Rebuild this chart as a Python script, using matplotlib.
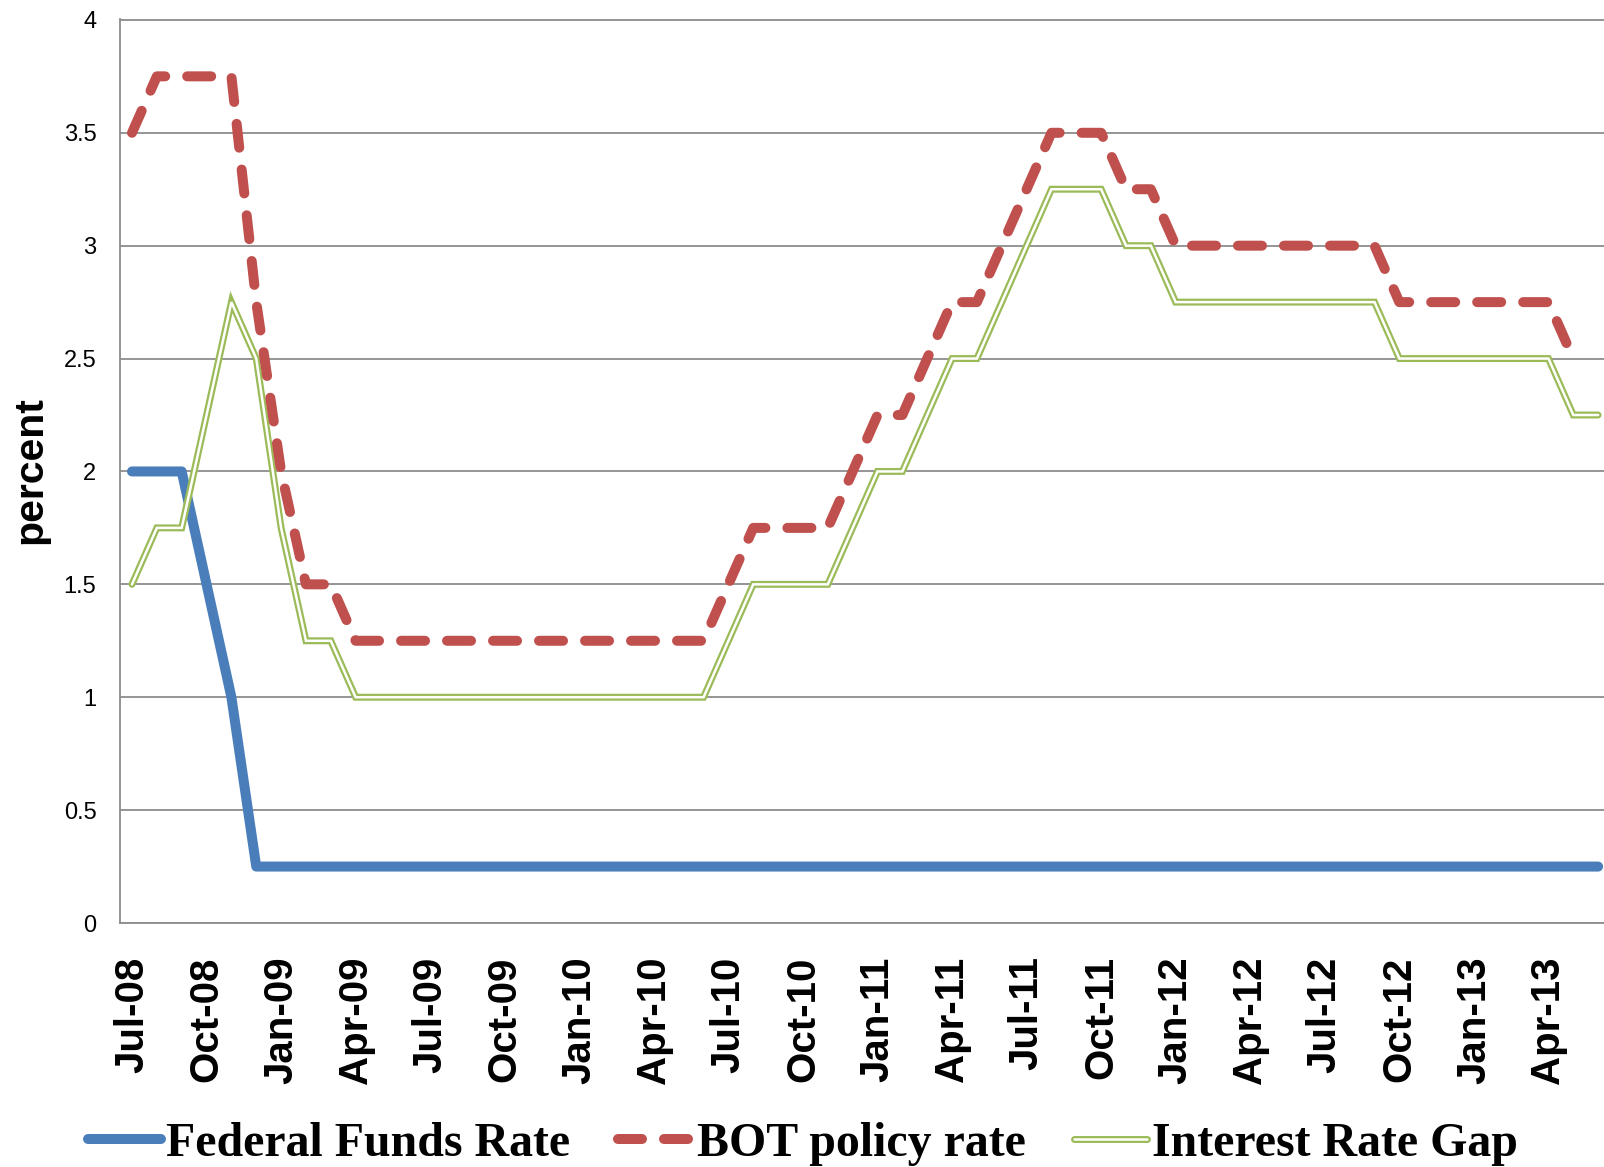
import matplotlib
matplotlib.use("Agg")
import matplotlib.pyplot as plt
from matplotlib.lines import Line2D
from matplotlib.legend_handler import HandlerTuple
import numpy as np

# ---------------- data ----------------
months_n = 60  # Jul-08 .. Jun-13, monthly
tick_labels = ["Jul-08", "Oct-08", "Jan-09", "Apr-09", "Jul-09", "Oct-09", "Jan-10",
               "Apr-10", "Jul-10", "Oct-10", "Jan-11", "Apr-11", "Jul-11", "Oct-11",
               "Jan-12", "Apr-12", "Jul-12", "Oct-12", "Jan-13", "Apr-13"]

fed_funds = [2.0, 2.0, 2.0, 1.5, 1.0, 0.25] + [0.25] * 54

bot_policy = ([3.5, 3.75, 3.75, 3.75, 3.75, 2.75, 2.0, 1.5, 1.5]
              + [1.25] * 15
              + [1.5, 1.75, 1.75, 1.75, 1.75, 2.0, 2.25, 2.25, 2.5, 2.75, 2.75,
                 3.0, 3.25, 3.5, 3.5, 3.5, 3.25, 3.25]
              + [3.0] * 9
              + [2.75] * 7
              + [2.5, np.nan])

rate_gap = ([1.5, 1.75, 1.75, 2.25, 2.75, 2.5, 1.75, 1.25, 1.25]
            + [1.0] * 15
            + [1.25, 1.5, 1.5, 1.5, 1.5, 1.75, 2.0, 2.0, 2.25, 2.5, 2.5,
               2.75, 3.0, 3.25, 3.25, 3.25, 3.0, 3.0]
            + [2.75] * 9
            + [2.5] * 7
            + [2.25, 2.25])

x = np.arange(months_n)

# ---------------- figure ----------------
W, H = 1604, 1167
fig = plt.figure(figsize=(W / 100, H / 100), dpi=100)
ax = fig.add_axes([120 / W, 1 - 923 / H, 1 - 120 / W, (923 - 19) / H])

BLUE = "#4A7EBB"
RED = "#C0504D"
GREEN = "#9BBB59"
GRID = "#8C8C8C"

ax.plot(x, fed_funds, color=BLUE, lw=7.2, solid_capstyle="round",
        solid_joinstyle="round", zorder=3)
ax.plot(x, rate_gap, color=GREEN, lw=5.0, solid_capstyle="round",
        solid_joinstyle="miter", zorder=4)
ax.plot(x, rate_gap, color="white", lw=1.8, solid_capstyle="round",
        solid_joinstyle="miter", zorder=4.1)
ax.plot(x, bot_policy, color=RED, lw=7.2, linestyle=(0, (2.4, 2.2)),
        dash_capstyle="round", dash_joinstyle="round", zorder=5)

step = 24.85
ax.set_xlim(-12 / step, (W - 132) / step)
ax.set_ylim(0, 4.004)

ax.set_yticks(np.arange(0, 4.01, 0.5))
ax.set_yticklabels(["0", "0.5", "1", "1.5", "2", "2.5", "3", "3.5", "4"],
                   family="Liberation Sans", fontsize=17)
ax.yaxis.grid(True, color=GRID, lw=1.3)
ax.set_axisbelow(True)

ax.set_xticks(x[::3])
ax.set_xticklabels(tick_labels, rotation=90, family="Liberation Sans",
                   fontweight="bold", fontsize=29, va="top", ha="center")
ax.tick_params(axis="x", length=0, pad=24)
ax.tick_params(axis="y", length=0, pad=17)

for s in ["top", "right"]:
    ax.spines[s].set_visible(False)
for s in ["left", "bottom"]:
    ax.spines[s].set_color(GRID)
    ax.spines[s].set_linewidth(1.3)

fig.text(30 / W, 1 - 470 / H, "percent", rotation=90, ha="center", va="center",
         family="Liberation Sans", fontweight="bold", fontsize=29.5)

# legend
h_fed = Line2D([], [], color=BLUE, lw=7.2, solid_capstyle="round")
h_bot = Line2D([], [], color=RED, lw=7.2, linestyle=(0, (2.4, 2.2)),
               dash_capstyle="round")
h_gap_o = Line2D([], [], color=GREEN, lw=5.0, solid_capstyle="round")
h_gap_i = Line2D([], [], color="white", lw=1.8, solid_capstyle="round")
leg = fig.legend([h_fed, h_bot, (h_gap_o, h_gap_i)],
                 ["Federal Funds Rate", "BOT policy rate", "Interest Rate Gap"],
                 handler_map={tuple: HandlerTuple(ndivide=1, pad=0)},
                 loc="center", bbox_to_anchor=(803 / W, 1 - 1144 / H),
                 ncol=3, frameon=False, handlelength=1.52, handletextpad=0.12,
                 columnspacing=1.0, borderpad=0, borderaxespad=0,
                 prop={"family": "Liberation Serif", "weight": "bold", "size": 34.5})

fig.savefig("out.png", dpi=100)
